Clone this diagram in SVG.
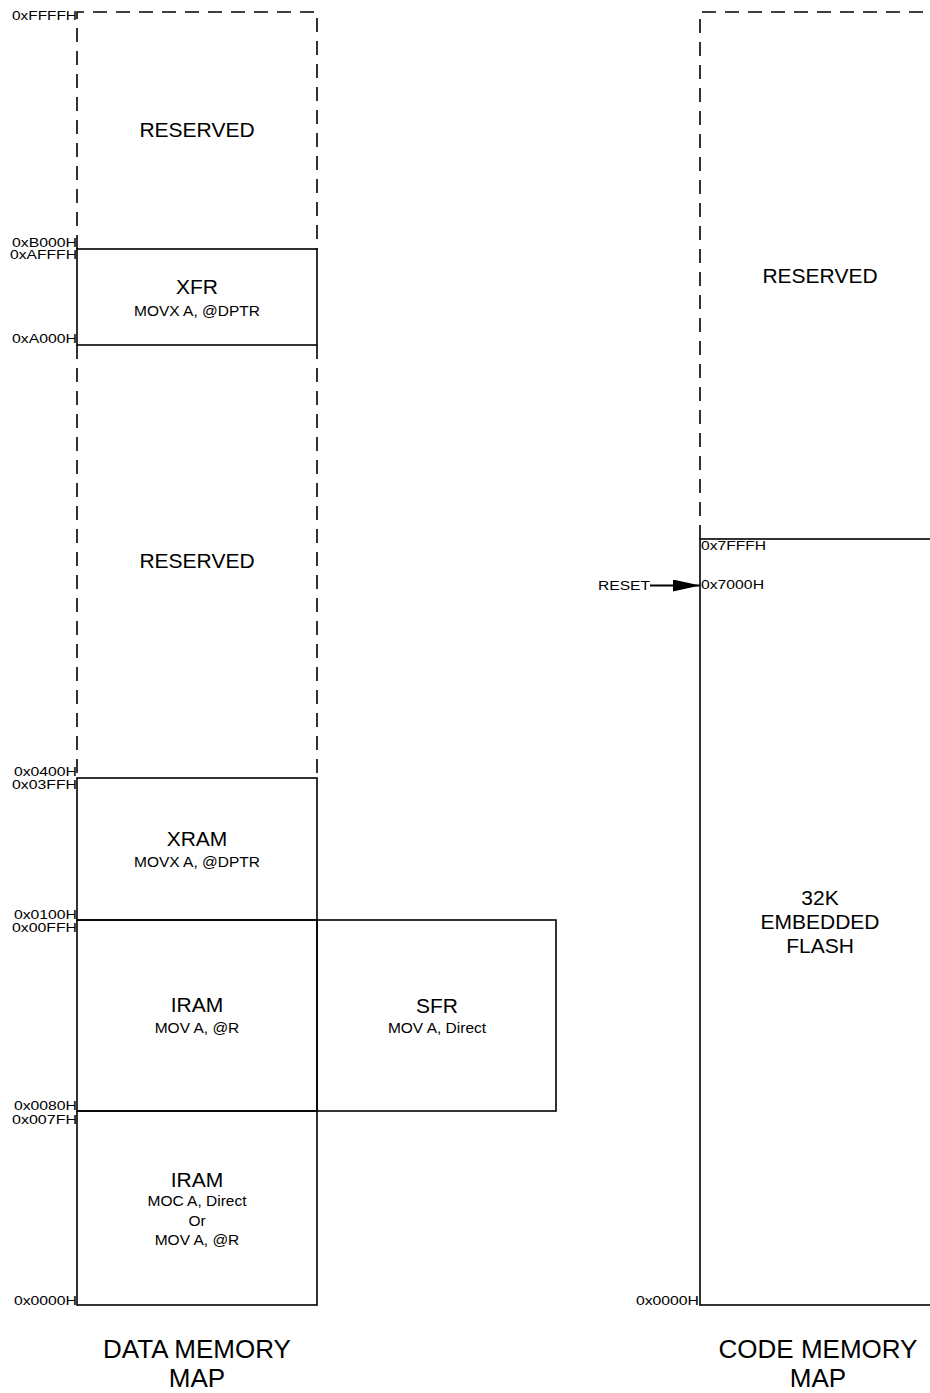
<svg xmlns="http://www.w3.org/2000/svg" width="930" height="1393" viewBox="0 0 930 1393">
<style>
  .box{fill:none;stroke:#000;stroke-width:1.6}
  .dash{fill:none;stroke:#000;stroke-width:1.6;stroke-dasharray:14 9}
  text{font-family:"Liberation Sans",Arial,sans-serif;fill:#000}
  .big{font-size:21px;text-anchor:middle}
  .sub{font-size:15.5px;text-anchor:middle}
  .adr{font-size:12.5px;text-anchor:end}
  .adrs{font-size:13px;text-anchor:start}
  .title{font-size:26px;text-anchor:middle}
</style>
<defs>
  <marker id="arr" markerWidth="27" markerHeight="12" refX="27" refY="6" orient="auto" markerUnits="userSpaceOnUse">
    <path d="M0,0 L27,6 L0,12 Z" fill="#000"/>
  </marker>
</defs>

<!-- DATA MEMORY MAP -->
<g id="data-reserved-top">
  <path class="dash" d="M77,249 V12 H317 V249"/>
  <text class="big" x="197" y="137">RESERVED</text>
</g>
<g id="data-xfr">
  <rect class="box" x="77" y="249" width="240" height="96"/>
  <text class="big" x="197" y="294">XFR</text>
  <text class="sub" x="197" y="316">MOVX A, @DPTR</text>
</g>
<g id="data-reserved-mid">
  <path class="dash" d="M77,345 V778 M317,345 V778"/>
  <text class="big" x="197" y="568">RESERVED</text>
</g>
<g id="data-xram">
  <rect class="box" x="77" y="778" width="240" height="142"/>
  <text class="big" x="197" y="846">XRAM</text>
  <text class="sub" x="197" y="867">MOVX A, @DPTR</text>
</g>
<g id="data-iram-upper">
  <rect class="box" x="77" y="920" width="240" height="191"/>
  <text class="big" x="197" y="1012">IRAM</text>
  <text class="sub" x="197" y="1033">MOV A, @R</text>
</g>
<g id="data-sfr">
  <rect class="box" x="317" y="920" width="239" height="191"/>
  <text class="big" x="437" y="1013">SFR</text>
  <text class="sub" x="437" y="1033">MOV A, Direct</text>
</g>
<g id="data-iram-lower">
  <rect class="box" x="77" y="1111" width="240" height="194"/>
  <text class="big" x="197" y="1187">IRAM</text>
  <text class="sub" x="197" y="1206">MOC A, Direct</text>
  <text class="sub" x="197" y="1226">Or</text>
  <text class="sub" x="197" y="1245">MOV A, @R</text>
</g>
<g id="data-addresses">
  <text class="adr" x="77" y="20" textLength="65" lengthAdjust="spacingAndGlyphs">0xFFFFH</text>
  <text class="adr" x="77" y="247" textLength="65" lengthAdjust="spacingAndGlyphs">0xB000H</text>
  <text class="adr" x="77" y="259" textLength="67" lengthAdjust="spacingAndGlyphs">0xAFFFH</text>
  <text class="adr" x="77" y="343" textLength="65" lengthAdjust="spacingAndGlyphs">0xA000H</text>
  <text class="adr" x="77" y="776" textLength="63" lengthAdjust="spacingAndGlyphs">0x0400H</text>
  <text class="adr" x="77" y="789" textLength="65" lengthAdjust="spacingAndGlyphs">0x03FFH</text>
  <text class="adr" x="77" y="919" textLength="63" lengthAdjust="spacingAndGlyphs">0x0100H</text>
  <text class="adr" x="77" y="932" textLength="65" lengthAdjust="spacingAndGlyphs">0x00FFH</text>
  <text class="adr" x="77" y="1110" textLength="63" lengthAdjust="spacingAndGlyphs">0x0080H</text>
  <text class="adr" x="77" y="1124" textLength="65" lengthAdjust="spacingAndGlyphs">0x007FH</text>
  <text class="adr" x="77" y="1305" textLength="63" lengthAdjust="spacingAndGlyphs">0x0000H</text>
</g>
<g id="data-title">
  <text class="title" x="197" y="1358">DATA MEMORY</text>
  <text class="title" x="197" y="1387">MAP</text>
</g>

<!-- CODE MEMORY MAP -->
<g id="code-reserved">
  <path class="dash" d="M700,539 V12 H945"/>
  <text class="big" x="820" y="283">RESERVED</text>
</g>
<g id="code-flash">
  <rect class="box" x="700" y="539" width="245" height="766"/>
  <text class="big" x="820" y="905">32K</text>
  <text class="big" x="820" y="929">EMBEDDED</text>
  <text class="big" x="820" y="953">FLASH</text>
</g>
<g id="code-addresses">
  <text class="adrs" x="701" y="550" textLength="65" lengthAdjust="spacingAndGlyphs">0x7FFFH</text>
  <text class="adrs" x="701" y="589" textLength="63" lengthAdjust="spacingAndGlyphs">0x7000H</text>
  <text class="adr" x="699" y="1305" textLength="63" lengthAdjust="spacingAndGlyphs">0x0000H</text>
</g>
<g id="reset">
  <text class="adr" x="650" y="590" textLength="52" lengthAdjust="spacingAndGlyphs">RESET</text>
</g>
<g id="connectors">
  <line x1="650" y1="585.5" x2="700" y2="585.5" stroke="#000" stroke-width="1.8" marker-end="url(#arr)"/>
</g>

<g id="code-title">
  <text class="title" x="818" y="1358">CODE MEMORY</text>
  <text class="title" x="818" y="1387">MAP</text>
</g>
</svg>
